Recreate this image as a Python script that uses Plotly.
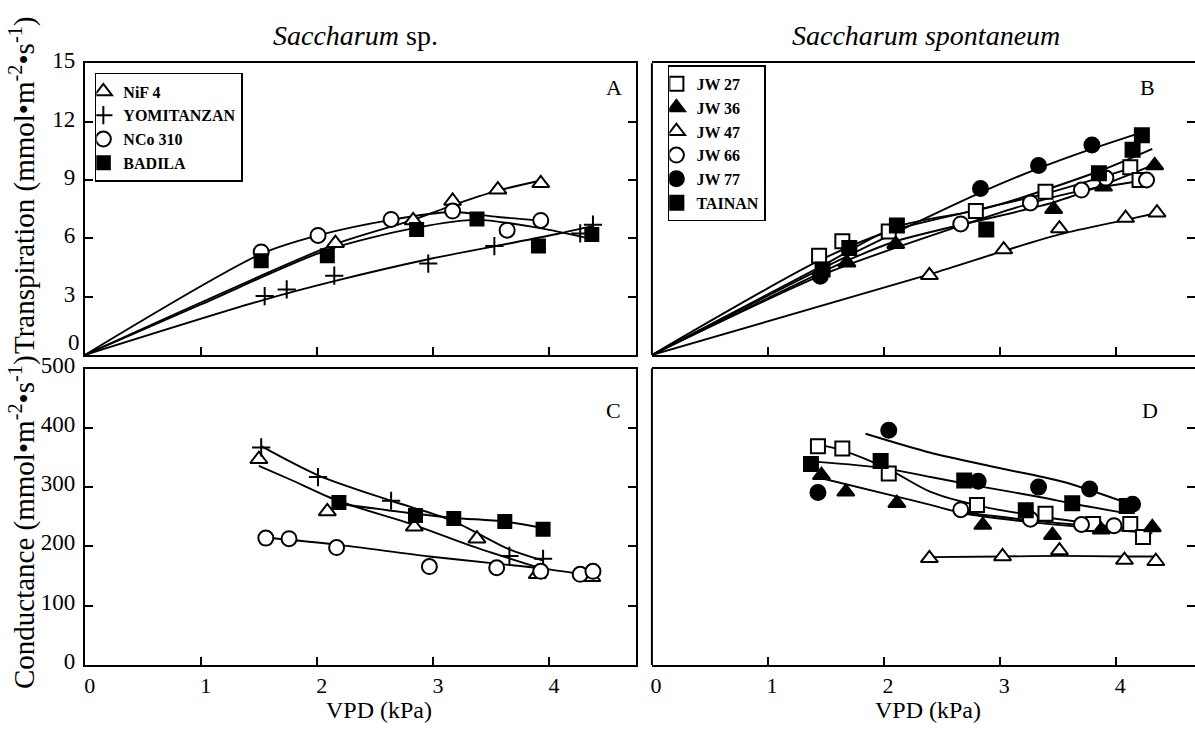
import plotly.graph_objects as go

W, H = 1195, 731

# ---------------- data ----------------
# Panel A: Transpiration, Saccharum sp.
A_names = ["NiF 4", "YOMITANZAN", "NCo 310", "BADILA"]
A_pts_x = {
    "NiF 4": [2.16, 2.83, 3.17, 3.56, 3.93],
    "YOMITANZAN": [1.55, 1.74, 2.15, 2.96, 3.53, 4.27, 4.38],
    "NCo 310": [1.52, 2.01, 2.64, 3.17, 3.64, 3.93],
    "BADILA": [1.52, 2.09, 2.86, 3.38, 3.91, 4.37],
}
A_pts_y = {
    "NiF 4": [5.75, 6.92, 7.92, 8.5, 8.83],
    "YOMITANZAN": [3.03, 3.37, 4.08, 4.7, 5.6, 6.25, 6.7],
    "NCo 310": [5.3, 6.15, 6.97, 7.4, 6.42, 6.92],
    "BADILA": [4.85, 5.1, 6.45, 7.0, 5.6, 6.2],
}
A_fit_x = {
    "NiF 4": [0, 1.0, 2.16, 2.83, 3.17, 3.56, 3.95],
    "YOMITANZAN": [0, 1.55, 2.15, 2.98, 3.54, 4.07, 4.39],
    "NCo 310": [0, 1.52, 2.01, 2.64, 3.17, 3.56, 3.94],
    "BADILA": [0, 1.0, 2.09, 2.86, 3.38, 3.9, 4.38],
}
A_fit_y = {
    "NiF 4": [0, 2.7, 5.7, 6.95, 7.7, 8.45, 9.0],
    "YOMITANZAN": [0, 2.85, 3.8, 4.95, 5.6, 6.22, 6.65],
    "NCo 310": [0, 5.2, 6.15, 6.95, 7.35, 7.1, 6.9],
    "BADILA": [0, 2.6, 5.4, 6.55, 6.95, 6.55, 5.95],
}

# Panel C: Conductance, Saccharum sp.
C_pts_x = {
    "NiF 4": [1.50, 2.09, 2.84, 3.38, 3.90, 4.37],
    "YOMITANZAN": [1.52, 2.01, 2.64, 3.66, 3.95],
    "NCo 310": [1.56, 1.76, 2.17, 2.97, 3.55, 3.93, 4.27, 4.38],
    "BADILA": [2.19, 2.85, 3.18, 3.62, 3.95],
}
C_pts_y = {
    "NiF 4": [347, 259, 233, 213, 153, 148],
    "YOMITANZAN": [367, 317, 277, 184, 179],
    "NCo 310": [214, 213, 198, 166, 164, 158, 153, 158],
    "BADILA": [274, 252, 247, 242, 229],
}
C_fit_x = {
    "NiF 4": [1.5, 1.78, 2.18, 2.84, 3.33, 3.9],
    "YOMITANZAN": [1.52, 2.01, 2.64, 3.16, 3.66, 3.95],
    "NCo 310": [1.56, 2.17, 2.97, 3.55, 3.93, 4.4],
    "BADILA": [2.19, 2.85, 3.18, 3.62, 3.95],
}
C_fit_y = {
    "NiF 4": [336, 312, 277, 236, 201, 165],
    "YOMITANZAN": [369, 320, 277, 244, 195, 176],
    "NCo 310": [215, 203, 183, 171, 163, 150],
    "BADILA": [272, 255, 248, 242, 231],
}

# Panel B: Transpiration, Saccharum spontaneum
B_names = ["JW 27", "JW 36", "JW 47", "JW 66", "JW 77", "TAINAN"]
B_pts_x = {
    "JW 27": [1.44, 1.64, 2.04, 2.79, 3.39, 4.12, 4.2],
    "JW 36": [1.68, 2.10, 3.46, 3.89, 4.33],
    "JW 47": [2.39, 3.03, 3.51, 4.08, 4.35],
    "JW 66": [2.66, 3.26, 3.70, 3.91, 4.26],
    "JW 77": [1.45, 2.83, 3.33, 3.79],
    "TAINAN": [1.47, 1.70, 2.11, 2.88, 3.85, 4.14, 4.22],
}
B_pts_y = {
    "JW 27": [5.1, 5.85, 6.35, 7.4, 8.4, 9.65, 9.0],
    "JW 36": [4.75, 5.7, 7.5, 8.65, 9.75],
    "JW 47": [4.1, 5.42, 6.5, 7.04, 7.32],
    "JW 66": [6.74, 7.82, 8.48, 9.1, 9.0],
    "JW 77": [4.05, 8.56, 9.75, 10.8],
    "TAINAN": [4.4, 5.5, 6.66, 6.45, 9.35, 10.55, 11.3],
}
B_fit_x = {
    "JW 27": [0, 1.44, 2.04, 2.79, 3.39, 4.12],
    "JW 36": [0, 1.68, 2.10, 3.46, 3.89, 4.33],
    "JW 47": [0, 2.39, 3.03, 3.51, 4.08, 4.35],
    "JW 66": [0, 1.5, 2.66, 3.26, 3.70, 4.26],
    "JW 77": [0, 1.45, 2.83, 3.33, 3.79, 4.22],
    "TAINAN": [0, 1.47, 2.11, 2.88, 3.85, 4.31],
}
B_fit_y = {
    "JW 27": [0, 4.85, 6.35, 7.45, 8.3, 9.6],
    "JW 36": [0, 4.85, 5.85, 7.85, 8.75, 9.8],
    "JW 47": [0, 4.15, 5.35, 6.2, 6.95, 7.3],
    "JW 66": [0, 4.2, 6.65, 7.8, 8.45, 9.0],
    "JW 77": [0, 4.4, 8.35, 9.6, 10.6, 11.45],
    "TAINAN": [0, 4.6, 6.6, 7.55, 9.45, 10.6],
}

# Panel D: Conductance, Saccharum spontaneum
D_pts_x = {
    "JW 27": [1.43, 1.64, 2.04, 2.80, 3.39, 3.80, 4.12, 4.23],
    "JW 36": [1.46, 1.67, 2.11, 2.85, 3.45, 3.87, 4.31],
    "JW 47": [2.39, 3.02, 3.51, 4.07, 4.34],
    "JW 66": [2.66, 3.26, 3.70, 3.98],
    "JW 77": [1.43, 2.04, 2.81, 3.33, 3.77, 4.14],
    "TAINAN": [1.37, 1.97, 2.69, 3.22, 3.62, 4.09],
}
D_pts_y = {
    "JW 27": [369, 365, 323, 270, 255, 238, 238, 216],
    "JW 36": [320, 292, 273, 236, 219, 228, 232],
    "JW 47": [180, 183, 193, 177, 175],
    "JW 66": [262, 246, 237, 235],
    "JW 77": [291, 396, 310, 300, 297, 271],
    "TAINAN": [339, 344, 311, 261, 273, 268],
}
D_fit_x = {
    "JW 27": [1.43, 1.64, 2.04, 2.4, 2.83, 3.26, 3.69, 4.23],
    "JW 36": [1.46, 2.11, 2.4, 2.68, 3.26, 3.69, 4.31],
    "JW 47": [2.39, 3.02, 3.51, 4.07, 4.34],
    "JW 66": [2.66, 3.26, 3.7, 4.0],
    "JW 77": [1.84, 2.4, 2.97, 3.54, 4.08],
    "TAINAN": [1.4, 2.0, 2.4, 2.86, 3.35, 3.63, 4.08],
}
D_fit_y = {
    "JW 27": [372, 362, 330, 292, 268, 253, 241, 226],
    "JW 36": [315, 284, 270, 256, 241, 233, 222],
    "JW 47": [182, 183, 184, 183, 183],
    "JW 66": [258, 244, 236, 232],
    "JW 77": [390, 358, 333, 309, 274],
    "TAINAN": [343, 332, 317, 300, 283, 272, 256],
}

# tick values / labels
trans_ticks = [0, 3, 6, 9, 12, 15]
trans_labels = ["", "3", "6", "9", "12", "15"]   # the "0" is set apart below
cond_ticks = [0, 100, 200, 300, 400, 500]
vpd_ticks = [0, 1, 2, 3, 4]

# ---------------- styles ----------------
SERIF = "Liberation Serif"
STYLE = {
    "NiF 4": ("triangle-up", "white", 15),
    "YOMITANZAN": ("cross-thin", "black", 13),
    "NCo 310": ("circle", "white", 15),
    "BADILA": ("square", "black", 13),
    "JW 27": ("square", "white", 14),
    "JW 36": ("triangle-up", "black", 15),
    "JW 47": ("triangle-up", "white", 15),
    "JW 66": ("circle", "white", 15),
    "JW 77": ("circle", "black", 15),
    "TAINAN": ("square", "black", 14),
}

fig = go.Figure()


def add_panel(names, px, py, fx, fy, xa, ya, legend=None):
    for n in names:
        fig.add_trace(go.Scatter(
            x=fx[n], y=fy[n], mode="lines", xaxis=xa, yaxis=ya,
            line=dict(color="black", width=1.9, shape="spline", smoothing=0.8),
            showlegend=False, hoverinfo="skip"))
    for n in names:
        sym, fill, size = STYLE[n]
        fig.add_trace(go.Scatter(
            x=px[n], y=py[n], mode="markers", xaxis=xa, yaxis=ya, name=n,
            marker=dict(symbol=sym, color=fill, size=size,
                        line=dict(color="black", width=2)),
            showlegend=legend is not None, legend=legend if legend else "legend"))


add_panel(A_names, A_pts_x, A_pts_y, A_fit_x, A_fit_y, "x", "y", "legend")
add_panel(B_names, B_pts_x, B_pts_y, B_fit_x, B_fit_y, "x2", "y2", "legend2")
add_panel(A_names, C_pts_x, C_pts_y, C_fit_x, C_fit_y, "x3", "y3")
add_panel(B_names, D_pts_x, D_pts_y, D_fit_x, D_fit_y, "x4", "y4")


def px2x(p):
    return p / W


def py2y(p):
    return 1 - p / H


left_dom = [px2x(83), px2x(635)]
right_dom = [px2x(651), 1.0]
top_dom = [py2y(351), py2y(49)]
bot_dom = [py2y(672), py2y(365)]
xr_left = [0, (635 - 83) / 116.2]
xr_right = [0, (1195 - 651) / 116.3]

tickfont = dict(family=SERIF, size=23, color="black")
xtickfont = dict(family=SERIF, size=22, color="black")
common = dict(showgrid=False, zeroline=False, showline=True, linecolor="black",
              linewidth=2, ticks="inside", ticklen=8, tickwidth=1.5,
              tickcolor="black", tickfont=tickfont)
xcommon = dict(common)
xcommon["tickfont"] = xtickfont

fig.update_layout(
    xaxis=dict(domain=left_dom, range=xr_left, anchor="y", tickvals=vpd_ticks,
               showticklabels=False, mirror=True, **xcommon),
    yaxis=dict(domain=top_dom, range=[0, 15], anchor="x", tickvals=trans_ticks,
               ticktext=trans_labels, mirror="ticks", ticklabelshift=-3,
               ticklabelstandoff=3, **common),
    xaxis3=dict(domain=left_dom, range=xr_left, anchor="y3", tickvals=vpd_ticks,
                mirror=True, ticklabelstandoff=0, ticklabelshift=5, **xcommon),
    yaxis3=dict(domain=bot_dom, range=[0, 500], anchor="x3", tickvals=cond_ticks,
                mirror="ticks", ticklabelshift=-4, ticklabelstandoff=3, **common),
    xaxis2=dict(domain=right_dom, range=xr_right, anchor="y2", tickvals=vpd_ticks,
                showticklabels=False, mirror=True, **xcommon),
    xaxis4=dict(domain=right_dom, range=xr_right, anchor="y4", tickvals=vpd_ticks,
                mirror=True, ticklabelstandoff=0, ticklabelshift=4, **xcommon),
)
right_common = dict(common)
right_common["showline"] = False
fig.update_layout(
    yaxis2=dict(domain=top_dom, range=[0, 15], anchor="x2", side="right",
                tickvals=trans_ticks, showticklabels=False, **right_common),
    yaxis4=dict(domain=bot_dom, range=[0, 500], anchor="x4", side="right",
                tickvals=cond_ticks, showticklabels=False, **right_common),
)

# left spines of B and D
for xr, yr in (("x2 domain", "y2 domain"), ("x4 domain", "y4 domain")):
    fig.add_shape(type="line", xref=xr, yref=yr, x0=0, x1=0, y0=0, y1=1,
                  line=dict(color="black", width=2))

legfont = dict(family=SERIF, size=16, color="black", weight="bold")
fig.update_layout(
    legend=dict(x=px2x(93), y=py2y(59), xanchor="left", yanchor="top",
                bgcolor="white", bordercolor="black", borderwidth=1.5,
                font=legfont, itemwidth=30, tracegroupgap=0, indentation=-13),
    legend2=dict(x=px2x(667), y=py2y(51), xanchor="left", yanchor="top",
                 bgcolor="white", bordercolor="black", borderwidth=1.5,
                 font=legfont, itemwidth=30, tracegroupgap=0, indentation=-13),
)

ann = []
titlefont = dict(family=SERIF, size=28, color="black")
ann.append(dict(text="<i>Saccharum</i> sp.", x=px2x(354), y=py2y(20)))
ann.append(dict(text="<i>Saccharum spontaneum</i>", x=px2x(926), y=py2y(20)))
for a in ann:
    a.update(xref="paper", yref="paper", showarrow=False, font=titlefont,
             xanchor="center", yanchor="middle")
letters = [("A", 613, 74), ("B", 1147, 74), ("C", 613, 408), ("D", 1150, 408)]
for t, x, y in letters:
    ann.append(dict(text=t, x=px2x(x), y=py2y(y), xref="paper", yref="paper",
                    showarrow=False, font=dict(family=SERIF, size=22, color="black"),
                    xanchor="center", yanchor="middle"))
# the "0" tick label of the transpiration axis, set slightly above its tick
ann.append(dict(text=str(trans_ticks[0]), x=px2x(79), y=py2y(352),
                xref="paper", yref="paper", showarrow=False, font=tickfont,
                xanchor="right", yanchor="bottom", borderpad=0))
for x in (378, 928):
    ann.append(dict(text="VPD (kPa)", x=px2x(x), y=-2 / H, xref="paper",
                    yref="paper", showarrow=False, borderpad=0,
                    font=dict(family=SERIF, size=24, color="black"),
                    xanchor="center", yanchor="bottom"))
unit = " (mmol•m<sup>-2</sup>•s<sup>-1</sup>)"
ann.append(dict(text="Transpiration" + unit, x=px2x(20), y=py2y(175),
                textangle=-90))
ann.append(dict(text="Conductance" + unit, x=px2x(20), y=py2y(524),
                textangle=-90))
for a in ann[-2:]:
    a.update(xref="paper", yref="paper", showarrow=False,
             font=dict(family=SERIF, size=29, color="black"),
             xanchor="center", yanchor="middle")

fig.update_layout(
    annotations=ann,
    width=W, height=H,
    margin=dict(l=0, r=0, t=0, b=0),
    paper_bgcolor="white", plot_bgcolor="white",
)

fig.write_html("out.html")
